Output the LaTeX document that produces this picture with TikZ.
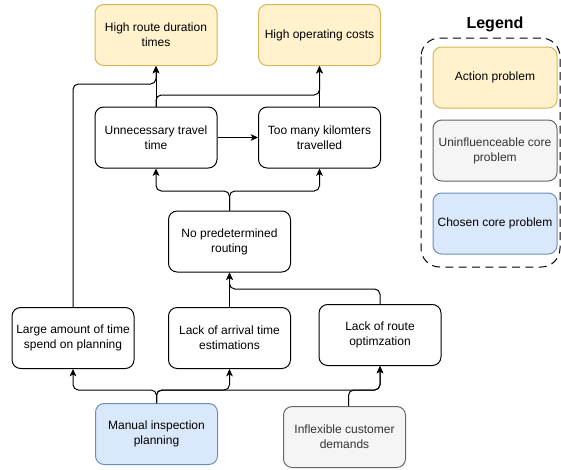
\documentclass[tikz,border=0pt]{standalone}
\usepackage{fontspec}
\setmainfont{Liberation Sans}
\usetikzlibrary{arrows.meta}

\definecolor{actfill}{HTML}{FFF2CC}
\definecolor{actline}{HTML}{D6B656}
\definecolor{grayfill}{HTML}{F5F5F5}
\definecolor{grayline}{HTML}{666666}
\definecolor{graytext}{HTML}{333333}
\definecolor{bluefill}{HTML}{DAE8FC}
\definecolor{blueline}{HTML}{6C8EBF}

\tikzset{
  problem/.style={draw=black, fill=white, rounded corners=6.5pt, line width=0.75pt,
    minimum width=91.5pt, minimum height=45.75pt, inner sep=1pt, align=center,
    font=\fontsize{9}{11.25}\selectfont},
  action/.style={problem, draw=actline, fill=actfill},
  fixedcore/.style={problem, draw=grayline, fill=grayfill, text=graytext},
  chosen/.style={problem, draw=blueline, fill=bluefill},
  link/.style={line width=0.75pt, rounded corners=4pt,
    -{Stealth[length=5.5pt,width=5pt,inset=1.4pt]}},
  legendframe/.style={draw=black, line width=0.75pt, rounded corners=14pt,
    dash pattern=on 6pt off 4pt}
}

\begin{document}
\begin{tikzpicture}[x=0.75pt, y=-0.75pt]
  \useasboundingbox (0,0) rectangle (561,469);

  % effects
  \node[action] (hrd) at (156,35) {High route duration\\times};
  \node[action] (hoc) at (319.5,35) {High operating costs};

  % intermediate problems
  \node[problem] (unt) at (156,137.5) {Unnecessary travel\\time};
  \node[problem] (tmk) at (319.5,137.5) {Too many kilomters\\travelled};
  \node[problem] (npr) at (229.5,241.5) {No predetermined\\routing};
  \node[problem] (lat) at (73,338) {Large amount of time\\spend on planning};
  \node[problem] (lae) at (229.5,338) {Lack of arrival time\\estimations};
  \node[problem] (lro) at (380,335) {Lack of route\\optimzation};

  % core problems
  \node[chosen] (mip) at (156.5,434) {Manual inspection\\planning};
  \node[fixedcore] (icd) at (344.5,437) {Inflexible customer\\demands};

  % legend
  \node[font=\bfseries\fontsize{12}{14}\selectfont] (legtitle) at (495,24) {Legend};
  \draw[legendframe] (421,38) rectangle (560,267);
  \node[action, minimum width=93pt] (legact) at (495,77.5) {Action problem};
  \node[fixedcore, minimum width=93pt] (leggray) at (495,150.5) {Uninfluenceable core\\problem};
  \node[chosen, minimum width=93pt] (legblue) at (495,223.5) {Chosen core problem};

  % cause-effect links
  \draw[link] (unt.north) -- (hrd.south);
  \draw[link] (unt.north) -- (unt.north |- 0,95) -| (hoc.south);
  \draw[link] (lat.north) -- (lat.north |- 0,84) -| (hrd.south);
  \draw[link] (tmk.north) -- (hoc.south);
  \draw[link] (unt.east) -- (tmk.west);
  \draw[link] (npr.north) -- (npr.north |- 0,191) -| (unt.south);
  \draw[link] (npr.north) -- (npr.north |- 0,191) -| (tmk.south);
  \draw[link] (lae.north) -- (npr.south);
  \draw[link] (lro.north) -- (lro.north |- 0,289) -| (npr.south);
  \draw[link] (mip.north) -- (mip.north |- 0,390) -| (lat.south);
  \draw[link] (mip.north) -- (mip.north |- 0,390) -| (lae.south);
  \draw[link] (mip.north) -- (mip.north |- 0,390) -| (lro.south);
  \draw[link] ([xshift=3pt]icd.north) -- ([xshift=3pt]icd.north |- 0,390) -| (lro.south);
\end{tikzpicture}
\end{document}
